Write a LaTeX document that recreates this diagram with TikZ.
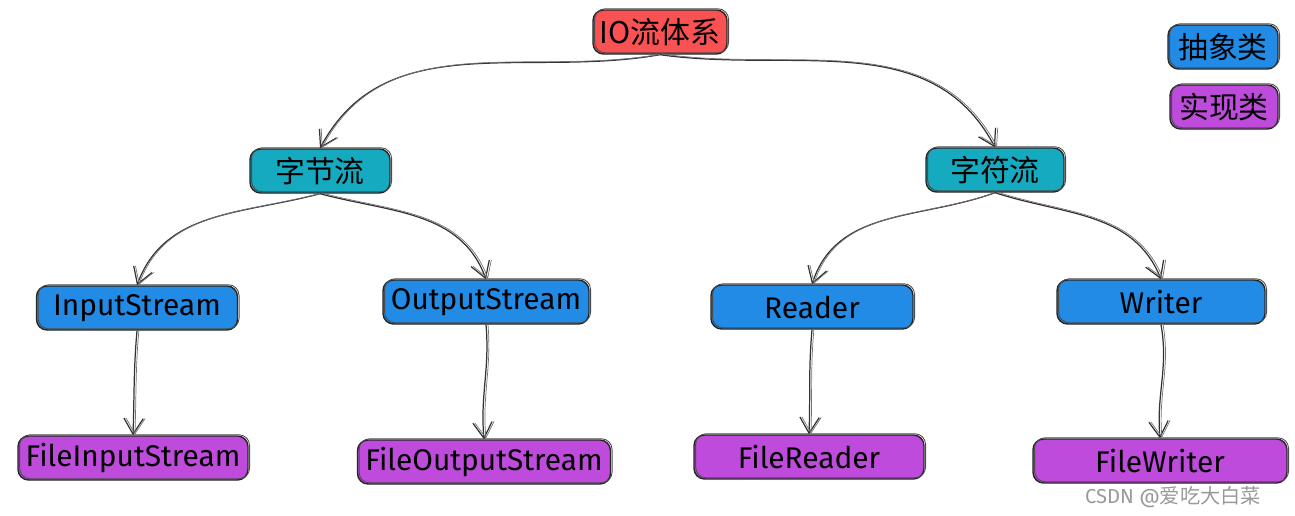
\documentclass[tikz,border=0pt]{standalone}
\usepackage{fontspec}
\setmainfont{Fira Sans}
\newfontfamily\cjk{Noto Sans CJK SC}
\usetikzlibrary{arrows.meta}

\definecolor{redfill}{HTML}{FA5252}
\definecolor{tealfill}{HTML}{15AABF}
\definecolor{bluefill}{HTML}{228BE6}
\definecolor{purplefill}{HTML}{BE4BDB}

\begin{document}
\begin{tikzpicture}[
  x=0.02cm, y=-0.02cm,
  every node/.style={font=\fontsize{17}{19}\selectfont},
  box/.style={
    draw=black!85,
    line width=0.8pt,
    rounded corners=6pt,
    minimum height=0.88cm,
    inner sep=1pt,
    postaction={draw=black!70, line width=0.5pt,
      transform canvas={shift={(0.9pt,0.7pt)}}}
  },
  top/.style={box, fill=redfill},
  group/.style={box, fill=tealfill},
  abstract/.style={box, fill=bluefill},
  impl/.style={box, fill=purplefill},
  arrow/.style={
    -{Straight Barb[length=9pt,width=11pt]},
    draw=black!80,
    line width=0.7pt,
    postaction={draw=black!55, line width=0.4pt,
      transform canvas={shift={(1.1pt,0.4pt)}}}
  }
]
\useasboundingbox (0,0) rectangle (1295,515);

% legend
\node[abstract, minimum width=2.2cm] (legabs) at (1223,47) {\cjk 抽象类};
\node[impl, minimum width=2.16cm] (legimpl) at (1224,107) {\cjk 实现类};

% tree
\node[top, minimum width=2.68cm] (io) at (660,32) {\cjk IO流体系};
\node[group, minimum width=2.8cm] (bytes) at (320,171) {\cjk 字节流};
\node[group, minimum width=2.76cm] (chars) at (995,170) {\cjk 字符流};

\node[abstract, minimum width=4.02cm] (instream) at (137,308) {InputStream};
\node[abstract, minimum width=4.12cm] (outstream) at (486,302) {OutputStream};
\node[abstract, minimum width=4.04cm] (reader) at (812,307) {Reader};
\node[abstract, minimum width=4.16cm] (writer) at (1161,302) {Writer};

\node[impl, minimum width=4.6cm] (fileinstream) at (133,458) {FileInputStream};
\node[impl, minimum width=5.06cm] (fileoutstream) at (484,462) {FileOutputStream};
\node[impl, minimum width=4.6cm] (filereader) at (809,457) {FileReader};
\node[impl, minimum width=5.08cm] (filewriter) at (1160,461) {FileWriter};

\draw[arrow] (io.south) to[out=190, in=62] (bytes.north);
\draw[arrow] (io.south) to[out=-8, in=118] (chars.north);

\draw[arrow] (bytes.south) to[out=195, in=70] (instream.north);
\draw[arrow] (bytes.south) to[out=-15, in=110] (outstream.north);
\draw[arrow] (chars.south) to[out=200, in=72] (reader.north);
\draw[arrow] (chars.south) to[out=-18, in=112] (writer.north);

\draw[arrow] (instream.south) to[out=-95, in=88] (fileinstream.north);
\draw[arrow] (outstream.south) to[out=-85, in=95] (fileoutstream.north);
\draw[arrow] (reader.south) to[out=-95, in=88] (filereader.north);
\draw[arrow] (writer.south) to[out=-80, in=95] (filewriter.north);

% watermark
\node[text=black!40, font=\fontsize{11.5}{13}\selectfont] (mark) at (1173,497) {CSDN @{\cjk 爱吃大白菜}};
\end{tikzpicture}
\end{document}
